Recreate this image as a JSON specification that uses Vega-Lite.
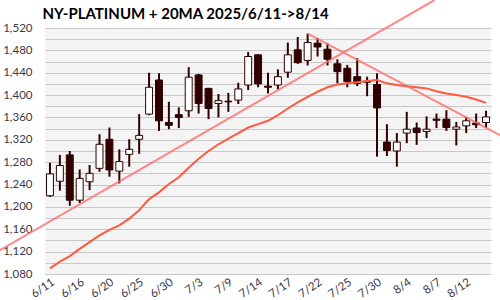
{
  "$schema": "https://vega.github.io/schema/vega-lite/v6.json",
  "width": 446,
  "height": 246,
  "autosize": {"type": "none"},
  "padding": {"left": 45, "top": 28, "right": 9, "bottom": 26},
  "background": "white",
  "config": {
    "view": {"fill": "#f4f4f4", "stroke": null},
    "axis": {"labelFont": "Lato", "labelColor": "#3a3a4a", "labelFontSize": 11.5, "domain": false, "ticks": false, "title": null, "labelOverlap": false}
  },
  "resolve": {"scale": {"x": "independent"}, "axis": {"y": "independent", "x": "independent"}},
  "datasets": {
    "ohlc": [
      {"i": 0, "d": "6/11", "o": 1220, "h": 1279, "l": 1218, "c": 1259, "ma": 1090},
      {"i": 1, "d": "6/12", "o": 1246, "h": 1293, "l": 1229, "c": 1274, "ma": 1102},
      {"i": 2, "d": "6/13", "o": 1293, "h": 1300, "l": 1202, "c": 1212, "ma": 1112},
      {"i": 3, "d": "6/16", "o": 1212, "h": 1267, "l": 1207, "c": 1251, "ma": 1125},
      {"i": 4, "d": "6/17", "o": 1245, "h": 1275, "l": 1230, "c": 1260, "ma": 1137},
      {"i": 5, "d": "6/18", "o": 1269, "h": 1330, "l": 1263, "c": 1312, "ma": 1149},
      {"i": 6, "d": "6/20", "o": 1321, "h": 1342, "l": 1254, "c": 1266, "ma": 1159},
      {"i": 7, "d": "6/23", "o": 1264, "h": 1303, "l": 1242, "c": 1281, "ma": 1167},
      {"i": 8, "d": "6/24", "o": 1294, "h": 1321, "l": 1272, "c": 1303, "ma": 1179},
      {"i": 9, "d": "6/25", "o": 1321, "h": 1366, "l": 1295, "c": 1328, "ma": 1194},
      {"i": 10, "d": "6/26", "o": 1366, "h": 1440, "l": 1364, "c": 1414, "ma": 1214},
      {"i": 11, "d": "6/27", "o": 1427, "h": 1439, "l": 1336, "c": 1354, "ma": 1226},
      {"i": 12, "d": "6/30", "o": 1351, "h": 1388, "l": 1339, "c": 1346, "ma": 1241},
      {"i": 13, "d": "7/1", "o": 1365, "h": 1378, "l": 1341, "c": 1360, "ma": 1253},
      {"i": 14, "d": "7/2", "o": 1372, "h": 1450, "l": 1361, "c": 1432, "ma": 1270},
      {"i": 15, "d": "7/3", "o": 1436, "h": 1438, "l": 1367, "c": 1385, "ma": 1286},
      {"i": 16, "d": "7/7", "o": 1412, "h": 1413, "l": 1357, "c": 1376, "ma": 1300},
      {"i": 17, "d": "7/8", "o": 1385, "h": 1402, "l": 1360, "c": 1390, "ma": 1312},
      {"i": 18, "d": "7/9", "o": 1389, "h": 1404, "l": 1370, "c": 1388, "ma": 1322},
      {"i": 19, "d": "7/10", "o": 1391, "h": 1422, "l": 1384, "c": 1411, "ma": 1332},
      {"i": 20, "d": "7/11", "o": 1418, "h": 1477, "l": 1409, "c": 1469, "ma": 1342},
      {"i": 21, "d": "7/14", "o": 1472, "h": 1473, "l": 1414, "c": 1420, "ma": 1348},
      {"i": 22, "d": "7/15", "o": 1416, "h": 1440, "l": 1403, "c": 1414, "ma": 1354},
      {"i": 23, "d": "7/16", "o": 1418, "h": 1446, "l": 1410, "c": 1433, "ma": 1364},
      {"i": 24, "d": "7/17", "o": 1441, "h": 1494, "l": 1431, "c": 1472, "ma": 1376},
      {"i": 25, "d": "7/18", "o": 1481, "h": 1504, "l": 1456, "c": 1458, "ma": 1387},
      {"i": 26, "d": "7/21", "o": 1462, "h": 1510, "l": 1453, "c": 1494, "ma": 1397},
      {"i": 27, "d": "7/22", "o": 1493, "h": 1502, "l": 1469, "c": 1486, "ma": 1406},
      {"i": 28, "d": "7/23", "o": 1482, "h": 1493, "l": 1453, "c": 1464, "ma": 1414},
      {"i": 29, "d": "7/24", "o": 1456, "h": 1464, "l": 1421, "c": 1442, "ma": 1419},
      {"i": 30, "d": "7/25", "o": 1448, "h": 1454, "l": 1414, "c": 1424, "ma": 1421},
      {"i": 31, "d": "7/28", "o": 1433, "h": 1466, "l": 1416, "c": 1421, "ma": 1423},
      {"i": 32, "d": "7/29", "o": 1425, "h": 1433, "l": 1398, "c": 1423, "ma": 1425},
      {"i": 33, "d": "7/30", "o": 1419, "h": 1439, "l": 1290, "c": 1377, "ma": 1427},
      {"i": 34, "d": "7/31", "o": 1316, "h": 1348, "l": 1291, "c": 1301, "ma": 1421},
      {"i": 35, "d": "8/1", "o": 1300, "h": 1332, "l": 1272, "c": 1316, "ma": 1418},
      {"i": 36, "d": "8/4", "o": 1332, "h": 1370, "l": 1314, "c": 1339, "ma": 1416},
      {"i": 37, "d": "8/5", "o": 1341, "h": 1351, "l": 1311, "c": 1333, "ma": 1414},
      {"i": 38, "d": "8/6", "o": 1335, "h": 1362, "l": 1323, "c": 1339, "ma": 1412},
      {"i": 39, "d": "8/7", "o": 1357, "h": 1367, "l": 1341, "c": 1355, "ma": 1407},
      {"i": 40, "d": "8/8", "o": 1357, "h": 1373, "l": 1336, "c": 1342, "ma": 1403},
      {"i": 41, "d": "8/11", "o": 1339, "h": 1352, "l": 1310, "c": 1343, "ma": 1400},
      {"i": 42, "d": "8/12", "o": 1345, "h": 1361, "l": 1332, "c": 1354, "ma": 1397},
      {"i": 43, "d": "8/13", "o": 1350, "h": 1367, "l": 1341, "c": 1347, "ma": 1392},
      {"i": 44, "d": "8/14", "o": 1351, "h": 1372, "l": 1341, "c": 1361, "ma": 1386}
    ],
    "trend": [
      {"line": "up", "i": -6, "v": 1113},
      {"line": "up", "i": 38.8, "v": 1570},
      {"line": "down", "i": 26, "v": 1510},
      {"line": "down", "i": 46, "v": 1323}
    ]
  },
  "layer": [
    {
      "data": {"name": "ohlc"},
      "mark": {"type": "rule", "color": "#300000", "strokeWidth": 2},
      "encoding": {
        "x": {"field": "d", "type": "ordinal", "sort": null, "scale": {"type": "band", "paddingInner": 0.3, "paddingOuter": 0.15},
          "axis": {"values": ["6/11", "6/16", "6/20", "6/25", "6/30", "7/3", "7/9", "7/14", "7/17", "7/22", "7/25", "7/30", "8/4", "8/7", "8/12"], "grid": false, "labelAngle": -35, "labelPadding": 2, "labelOverlap": false, "labelBound": false}},
        "y": {"field": "l", "type": "quantitative", "scale": {"domain": [1080, 1520], "nice": false, "zero": false},
          "axis": {"values": [1080, 1100, 1120, 1140, 1160, 1180, 1200, 1220, 1240, 1260, 1280, 1300, 1320, 1340, 1360, 1380, 1400, 1420, 1440, 1460, 1480, 1500, 1520], "labels": false, "orient": "right", "gridColor": "#c8c8c8", "gridWidth": 1}},
        "y2": {"field": "h"}
      }
    },
    {
      "data": {"name": "ohlc"},
      "mark": {"type": "bar", "stroke": "#300000", "strokeWidth": 1},
      "encoding": {
        "x": {"field": "d", "type": "ordinal", "sort": null, "scale": {"type": "band", "paddingInner": 0.3, "paddingOuter": 0.15}, "axis": null},
        "y": {"field": "o", "type": "quantitative", "axis": {"values": [1080, 1120, 1160, 1200, 1240, 1280, 1320, 1360, 1400, 1440, 1480, 1520], "grid": false, "orient": "left", "format": ",d", "labelPadding": 13, "labelOverlap": false, "labelBound": false,
          "title": "NY-PLATINUM + 20MA 2025/6/11->8/14", "titleAngle": 0, "titleAlign": "left", "titleBaseline": "alphabetic", "titleX": -3, "titleY": -10, "titleFont": "Liberation Sans Narrow, Lato", "titleFontSize": 15, "titleFontWeight": "bold", "titleColor": "#000000", "titlePadding": 0}},
        "y2": {"field": "c"},
        "fill": {"condition": {"test": "datum.c >= datum.o", "value": "#ffffff"}, "value": "#300000"}
      }
    },
    {
      "data": {"name": "ohlc"},
      "mark": {"type": "line", "color": "#ff5a40", "strokeWidth": 2},
      "encoding": {
        "x": {"field": "d", "type": "ordinal", "sort": null, "scale": {"type": "band", "paddingInner": 0.3, "paddingOuter": 0.15}, "axis": null},
        "y": {"field": "ma", "type": "quantitative", "axis": null}
      }
    },
    {
      "data": {"name": "trend"},
      "mark": {"type": "line", "color": "#ff6a6a", "strokeWidth": 2, "opacity": 0.8},
      "encoding": {
        "x": {"field": "i", "type": "quantitative", "scale": {"domain": [-0.5, 44.5], "nice": false, "zero": false}, "axis": null},
        "y": {"field": "v", "type": "quantitative", "axis": null},
        "detail": {"field": "line"}
      }
    }
  ]
}
